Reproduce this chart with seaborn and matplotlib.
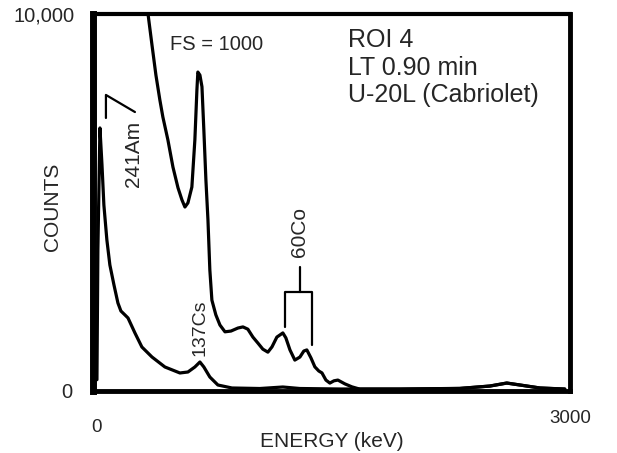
import matplotlib
matplotlib.use("Agg")
import matplotlib.pyplot as plt
import seaborn as sns
import pandas as pd

# ---- data ----
# full-scale 10,000 spectrum
low_energy = [0, 6, 19, 32, 44, 63, 82, 108, 133, 152, 178, 197, 241, 285, 349, 431,
              526, 577, 621, 653, 678, 716, 767, 856, 1033, 1179, 1287, 1541, 1921,
              2301, 2492, 2599, 2682, 2809, 2967]
low_counts = [300, 3741, 6977, 5996, 4935, 4006, 3343, 2812, 2335, 2122, 2016, 1937,
              1539, 1167, 902, 637, 478, 504, 637, 769, 637, 371, 159, 80, 66, 106,
              66, 53, 53, 66, 133, 212, 159, 80, 53]

# expanded spectrum (full scale 1000, drawn x10)
fs_energy = [298, 323, 349, 374, 399, 418, 450, 482, 514, 539, 558, 577, 602, 621,
             634, 640, 653, 666, 678, 691, 704, 716, 729, 754, 780, 812, 850, 894,
             926, 957, 989, 1021, 1052, 1084, 1110, 1141, 1179, 1198, 1224, 1255,
             1287, 1312, 1331, 1357, 1382, 1407, 1427, 1452, 1477, 1503, 1528, 1572,
             1617, 1667, 1921, 2301, 2492, 2599, 2682, 2809, 2967]
fs_counts = [1143, 1003, 918, 838, 772, 727, 666, 594, 539, 507, 488, 499, 541, 666,
             799, 846, 838, 807, 692, 560, 454, 321, 241, 202, 175, 157, 159, 167,
             170, 164, 143, 127, 111, 103, 117, 143, 154, 141, 109, 82, 90, 106, 109,
             88, 64, 53, 48, 29, 21, 27, 29, 19, 11, 5, 5, 7, 13, 21, 16, 8, 5]
fs_factor = 10

x_ticks = [0, 3000]
x_tick_labels = ["0", "3000"]
y_ticks = [0, 10000]
y_tick_labels = ["0", "10,000"]

info_lines = ["ROI 4", "LT 0.90 min", "U-20L (Cabriolet)"]

# ---- style ----
sns.set_style("white")
plt.rcParams["font.family"] = ["Liberation Sans", "DejaVu Sans"]

fig = plt.figure(figsize=(6.17, 4.53), dpi=100)
ax = fig.add_axes([93 / 617, 62 / 453, 477 / 617, 377 / 453])

df_low = pd.DataFrame({"energy": low_energy, "counts": low_counts})
df_fs = pd.DataFrame({"energy": fs_energy,
                      "counts": [c * fs_factor for c in fs_counts]})

sns.lineplot(data=df_low, x="energy", y="counts", sort=False, estimator=None,
             color="black", lw=2.3, ax=ax)
sns.lineplot(data=df_fs, x="energy", y="counts", sort=False, estimator=None,
             color="black", lw=2.3, ax=ax)

ax.set_xlim(-25, 3000)
ax.set_ylim(0, 10000)

ax.set_xticks(x_ticks)
ax.set_xticklabels(x_tick_labels, fontsize=13.5)
ax.set_yticks(y_ticks)
ax.set_yticklabels(y_tick_labels, fontsize=14.5)
ax.tick_params(axis="both", length=0)
ax.tick_params(axis="x", pad=14)
ax.tick_params(axis="y", pad=13)
xt = ax.xaxis.get_major_ticks()
xt[0].set_pad(20)
yt = ax.yaxis.get_major_ticks()
yt[0].set_pad(15)

ax.set_xlabel("ENERGY (keV)", fontsize=15)
ax.xaxis.set_label_coords(0.5, -0.108)
ax.set_ylabel("COUNTS", fontsize=15)
ax.yaxis.set_label_coords(-0.065, 0.488)

for side, lw in [("left", 5), ("bottom", 3.5), ("top", 3), ("right", 3.5)]:
    ax.spines[side].set_visible(True)
    ax.spines[side].set_color("black")
    ax.spines[side].set_linewidth(lw)

ann_lw = 1.6
# 241Am marker
ax.plot([57, 57, 241], [7242, 7853, 7400], color="black", lw=ann_lw)
ax.text(235, 6288, "241Am", rotation=90, ha="center", va="center", fontsize=15)

# 137Cs
ax.text(653, 930, "137Cs", rotation=90, ha="center", va="bottom", fontsize=14)

# 60Co bracket
ax.plot([1192, 1192, 1363, 1363], [1698, 2626, 2626, 1220], color="black", lw=ann_lw)
ax.plot([1287, 1287], [2626, 3290], color="black", lw=ann_lw)
ax.text(1287, 3560, "60Co", rotation=90, ha="center", va="bottom", fontsize=15)

ax.text(463, 9180, "FS = 1000", ha="left", va="center", fontsize=14.5)

for i, line in enumerate(info_lines):
    ax.text(0.535, 0.931 - i * 0.073, line, transform=ax.transAxes,
            ha="left", va="center", fontsize=18)

fig.savefig("out.png", dpi=100)
